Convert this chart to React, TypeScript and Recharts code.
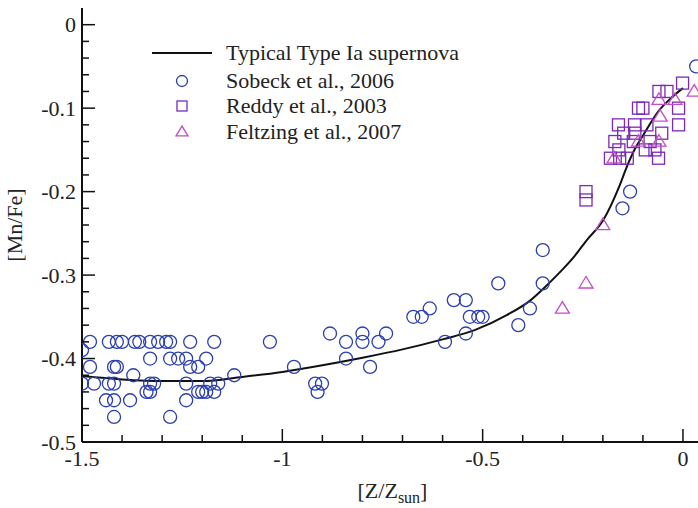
import React from "react";
import {
  ComposedChart,
  Line,
  Scatter,
  XAxis,
  YAxis,
  Legend,
} from "recharts";

// Typical Type Ia supernova curve
const curveZ = [-1.5, -1.4, -1.3, -1.2, -1.1, -1.0, -0.9, -0.8, -0.7, -0.6, -0.52, -0.44, -0.38, -0.35, -0.31, -0.27, -0.24, -0.2, -0.16, -0.14, -0.12, -0.1, -0.06, -0.03, 0];
const curveMn = [-0.421, -0.425, -0.427, -0.427, -0.422, -0.416, -0.408, -0.399, -0.389, -0.377, -0.366, -0.348, -0.33, -0.317, -0.298, -0.277, -0.258, -0.235, -0.195, -0.17, -0.149, -0.133, -0.103, -0.088, -0.076];

// Sobeck et al., 2006
const sobeckZ = [
  -1.48, -1.433, -1.413, -1.4, -1.368, -1.357, -1.33, -1.31, -1.29, -1.28, -1.23, -1.17,
  -1.5,
  -1.33, -1.28, -1.26, -1.24, -1.19,
  -1.48, -1.42, -1.413, -1.23, -1.21,
  -1.372, -1.12,
  -1.5, -1.47, -1.433, -1.42, -1.33, -1.32, -1.24, -1.18, -1.16,
  -1.339, -1.33, -1.21, -1.2, -1.19, -1.17,
  -1.44, -1.42, -1.38, -1.24,
  -1.42, -1.28,
  -1.031, -0.971, -0.918, -0.901, -0.912, -0.881, -0.841, -0.841, -0.8, -0.8, -0.781, -0.76, -0.741,
  -0.673, -0.652, -0.632, -0.594, -0.572, -0.542, -0.532, -0.511, -0.5, -0.542, -0.461, -0.411, -0.382,
  -0.35, -0.35, -0.151, -0.132, 0.033,
];
const sobeckMn = [
  -0.38, -0.38, -0.38, -0.38, -0.38, -0.38, -0.38, -0.38, -0.38, -0.38, -0.38, -0.38,
  -0.39,
  -0.4, -0.4, -0.4, -0.4, -0.4,
  -0.41, -0.41, -0.41, -0.41, -0.41,
  -0.42, -0.42,
  -0.43, -0.43, -0.43, -0.43, -0.43, -0.43, -0.43, -0.43, -0.43,
  -0.44, -0.44, -0.44, -0.44, -0.44, -0.44,
  -0.45, -0.45, -0.45, -0.45,
  -0.47, -0.47,
  -0.38, -0.41, -0.43, -0.43, -0.44, -0.37, -0.38, -0.4, -0.37, -0.38, -0.41, -0.38, -0.37,
  -0.35, -0.35, -0.34, -0.38, -0.33, -0.33, -0.35, -0.35, -0.35, -0.37, -0.31, -0.36, -0.34,
  -0.27, -0.31, -0.22, -0.2, -0.05,
];

// Reddy et al., 2003
const reddyZ = [-0.242, -0.242, -0.001, -0.06, -0.04, -0.011, -0.111, -0.1, -0.011, -0.161, -0.121, -0.09, -0.148, -0.12, -0.053, -0.17, -0.124, -0.082, -0.16, -0.094, -0.07, -0.181, -0.158, -0.139, -0.061];
const reddyMn = [-0.2, -0.21, -0.07, -0.08, -0.08, -0.1, -0.1, -0.1, -0.12, -0.12, -0.12, -0.12, -0.13, -0.13, -0.13, -0.14, -0.14, -0.14, -0.15, -0.15, -0.15, -0.16, -0.16, -0.16, -0.16];

// Feltzing et al., 2007
const feltzingZ = [-0.301, -0.242, -0.2, 0.028, -0.06, -0.02, -0.057, -0.111, -0.06, -0.172];
const feltzingMn = [-0.34, -0.31, -0.24, -0.08, -0.09, -0.09, -0.11, -0.14, -0.14, -0.16];

const seriesNames = [
  "Typical Type Ia supernova",
  "Sobeck et al., 2006",
  "Reddy et al., 2003",
  "Feltzing et al., 2007",
];

const xTicks = [-1.5, -1.4, -1.3, -1.2, -1.1, -1.0, -0.9, -0.8, -0.7, -0.6, -0.5, -0.4, -0.3, -0.2, -0.1, 0];
const xMajor = [-1.5, -1, -0.5, 0];
const xLabels = ["-1.5", "-1", "-0.5", "0"];
const yTicks = [
  -0.5, -0.48, -0.46, -0.44, -0.42, -0.4, -0.38, -0.36, -0.34, -0.32, -0.3, -0.28, -0.26,
  -0.24, -0.22, -0.2, -0.18, -0.16, -0.14, -0.12, -0.1, -0.08, -0.06, -0.04, -0.02, 0,
];
const yMajor = [-0.5, -0.4, -0.3, -0.2, -0.1, 0];
const yLabels = ["-0.5", "-0.4", "-0.3", "-0.2", "-0.1", "0"];

const zip = (xs: number[], ys: number[]) => xs.map((x, i) => ({ x, y: ys[i] }));
const curve = zip(curveZ, curveMn);
const sobeck = zip(sobeckZ, sobeckMn);
const reddy = zip(reddyZ, reddyMn);
const feltzing = zip(feltzingZ, feltzingMn);

const FONT = '"Liberation Serif", "Times New Roman", serif';
const INK = "#111";
const BLUE = "#2b3fae";
const PURPLE = "#7b2ab4";
const MAGENTA = "#c44cc8";

const majorIndex = (list: number[], v: number) =>
  list.findIndex((m) => Math.abs(m - v) < 1e-6);

const BottomTick = (props: any) => {
  const { x, y, payload } = props;
  const i = majorIndex(xMajor, payload.value);
  return (
    <g>
      <line x1={x} x2={x} y1={y} y2={y - (i >= 0 ? 13 : 7)} stroke={INK} strokeWidth={1.5} />
      {i >= 0 && (
        <text x={x} y={y + 24} textAnchor="middle" fontFamily={FONT} fontSize={22} fill="#222">
          {xLabels[i]}
        </text>
      )}
    </g>
  );
};

const TopTick = (props: any) => {
  const { x, y, payload } = props;
  const i = majorIndex(xMajor, payload.value);
  return <line x1={x} x2={x} y1={y} y2={y + (i >= 0 ? 13 : 7)} stroke={INK} strokeWidth={1.5} />;
};

const LeftTick = (props: any) => {
  const { x, y, payload } = props;
  const i = majorIndex(yMajor, payload.value);
  return (
    <g>
      <line x1={x} x2={x + (i >= 0 ? 13 : 7)} y1={y} y2={y} stroke={INK} strokeWidth={1.5} />
      {i >= 0 && (
        <text x={x - 6} y={y + 7.5} textAnchor="end" fontFamily={FONT} fontSize={22} fill="#222">
          {yLabels[i]}
        </text>
      )}
    </g>
  );
};

const RightTick = (props: any) => {
  const { x, y, payload } = props;
  const i = majorIndex(yMajor, payload.value);
  return <line x1={x} x2={x - (i >= 0 ? 13 : 7)} y1={y} y2={y} stroke={INK} strokeWidth={1.5} />;
};

const Circle = ({ cx, cy, r = 6.5 }: any) => (
  <circle cx={cx} cy={cy} r={r} fill="none" stroke={BLUE} strokeWidth={1.3} />
);
const Square = ({ cx, cy, s = 12 }: any) => (
  <rect x={cx - s / 2} y={cy - s / 2} width={s} height={s} fill="none" stroke={PURPLE} strokeWidth={1.3} />
);
const Triangle = ({ cx, cy, w = 14 }: any) => {
  const h = w * 0.82;
  return (
    <polygon
      points={`${cx},${cy - h * 0.6} ${cx - w / 2},${cy + h * 0.4} ${cx + w / 2},${cy + h * 0.4}`}
      fill="none"
      stroke={MAGENTA}
      strokeWidth={1.3}
    />
  );
};

const LegendBox = () => {
  const rows = [15, 43, 68, 94];
  return (
    <svg width={380} height={110}>
      <line x1={12} x2={72} y1={rows[0]} y2={rows[0]} stroke={INK} strokeWidth={2} />
      <Circle cx={42} cy={rows[1]} r={5.5} />
      <Square cx={42} cy={rows[2]} s={10} />
      <Triangle cx={42} cy={rows[3]} w={12} />
      {seriesNames.map((n, i) => (
        <text key={n} x={86} y={rows[i] + 7} fontFamily={FONT} fontSize={22} fill="#222">
          {n}
        </text>
      ))}
    </svg>
  );
};

export default function App() {
  return (
    <div style={{ position: "absolute", left: 0, top: 0, width: 698, height: 508, overflow: "hidden", background: "#fff" }}>
      <ComposedChart width={705} height={508} margin={{ top: 8, right: 2, bottom: 0, left: 0 }}>
        <XAxis
          dataKey="x"
          type="number"
          domain={[-1.5, 0.05]}
          allowDataOverflow
          ticks={xTicks}
          interval={0}
          height={66}
          tickSize={0}
          tickMargin={0}
          tick={(p: any) => <BottomTick {...p} />}
          axisLine={{ stroke: INK, strokeWidth: 2 }}
          label={{
            content: (p: any) => {
              const vb = p.viewBox;
              return (
                <text x={vb.x + vb.width / 2} y={vb.y + 56} textAnchor="middle" fontFamily={FONT} fontSize={22} fill="#222">
                  [Z/Z
                  <tspan fontSize={16} dy={5}>sun</tspan>
                  <tspan dy={-5}>]</tspan>
                </text>
              );
            },
          }}
        />
        <XAxis
          xAxisId="t"
          orientation="top"
          dataKey="x"
          type="number"
          domain={[-1.5, 0.05]}
          allowDataOverflow
          ticks={xTicks}
          interval={0}
          height={0}
          tickSize={0}
          tickMargin={0}
          tick={(p: any) => <TopTick {...p} />}
          axisLine={{ stroke: INK, strokeWidth: 2 }}
        />
        <YAxis
          type="number"
          domain={[-0.5, 0.02]}
          allowDataOverflow
          ticks={yTicks}
          interval={0}
          width={82}
          tickSize={0}
          tickMargin={0}
          tick={(p: any) => <LeftTick {...p} />}
          axisLine={{ stroke: INK, strokeWidth: 2 }}
          label={{
            content: (p: any) => {
              const vb = p.viewBox;
              const cy = vb.y + vb.height / 2;
              return (
                <text x={22} y={cy} transform={`rotate(-90 22 ${cy})`} textAnchor="middle" fontFamily={FONT} fontSize={22} fill="#222">
                  [Mn/Fe]
                </text>
              );
            },
          }}
        />
        <YAxis
          yAxisId="r"
          orientation="right"
          type="number"
          domain={[-0.5, 0.02]}
          allowDataOverflow
          ticks={yTicks}
          interval={0}
          width={0}
          tickSize={0}
          tickMargin={0}
          tick={(p: any) => <RightTick {...p} />}
          axisLine={{ stroke: INK, strokeWidth: 2 }}
        />
        <Legend
          layout="vertical"
          align="center"
          verticalAlign="middle"
          wrapperStyle={{ left: 140, top: 38, width: 380 }}
          content={() => <LegendBox />}
        />
        <Scatter name={seriesNames[1]} data={sobeck} dataKey="y" shape={(p: any) => <Circle cx={p.cx} cy={p.cy} />} isAnimationActive={false} />
        <Scatter name={seriesNames[2]} data={reddy} dataKey="y" shape={(p: any) => <Square cx={p.cx} cy={p.cy} />} isAnimationActive={false} />
        <Scatter name={seriesNames[3]} data={feltzing} dataKey="y" shape={(p: any) => <Triangle cx={p.cx} cy={p.cy} />} isAnimationActive={false} />
        <Line
          name={seriesNames[0]}
          data={curve}
          dataKey="y"
          type="monotone"
          stroke={INK}
          strokeWidth={2}
          dot={false}
          isAnimationActive={false}
        />
      </ComposedChart>
    </div>
  );
}
